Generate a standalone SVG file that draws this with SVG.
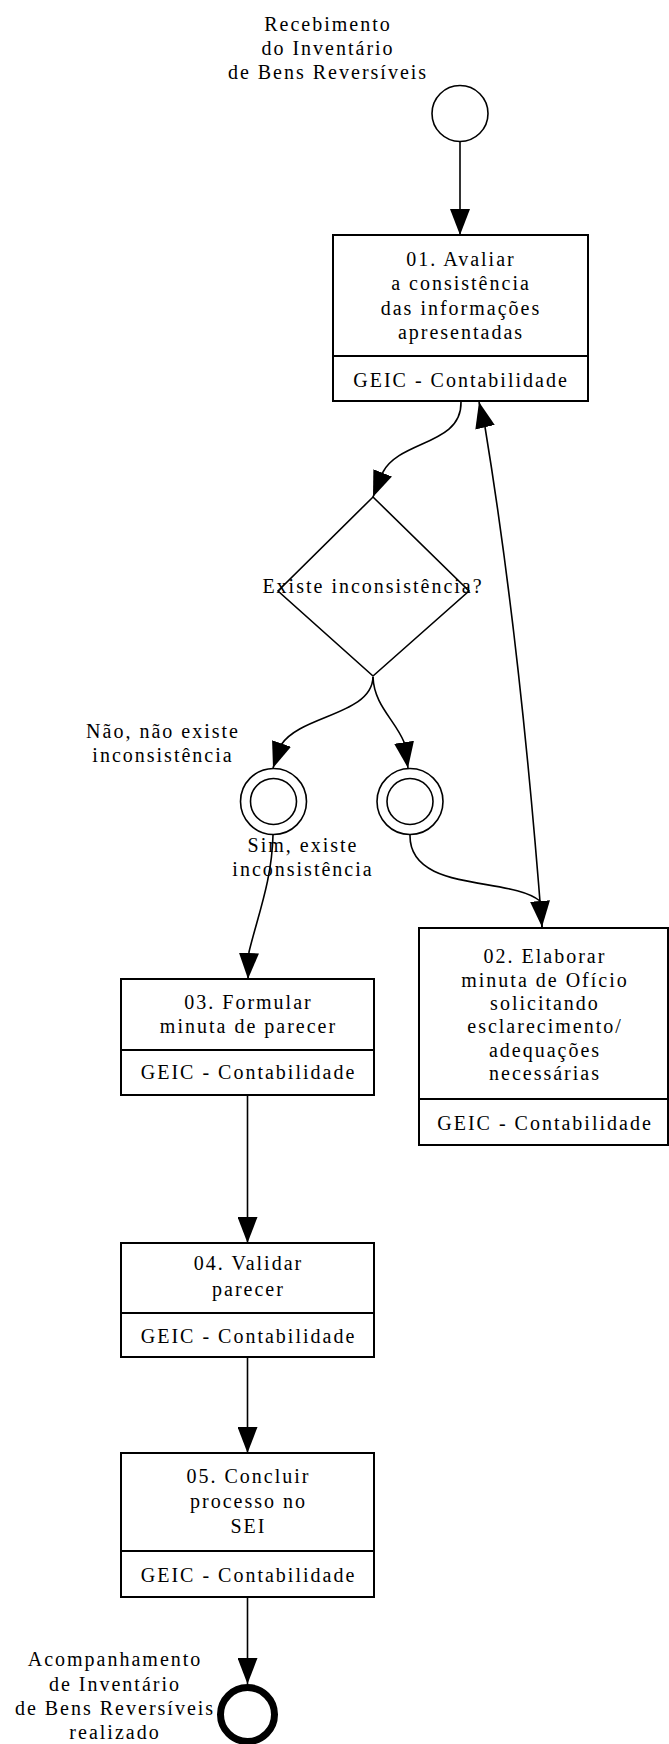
<svg xmlns="http://www.w3.org/2000/svg" width="669" height="1744" viewBox="0 0 669 1744">
<defs>
<marker id="arrow" markerUnits="userSpaceOnUse" markerWidth="26" markerHeight="20" refX="26" refY="10" orient="auto" viewBox="0 0 26 20">
<path d="M0,0 L26,10 L0,20 z" fill="#000"/>
</marker>
</defs>
<style>
.t { font-family: "Liberation Serif", "Times New Roman", serif; font-size: 20px; letter-spacing: 2px; text-anchor: middle; fill: #000; }
.box { fill: #fff; stroke: #000; stroke-width: 2; }
.div { stroke: #000; stroke-width: 2; }
.ev { fill: #fff; stroke: #000; stroke-width: 1.6; }
.end { fill: #fff; stroke: #000; stroke-width: 7; }
.edge { fill: none; stroke: #000; stroke-width: 1.6; marker-end: url(#arrow); }
</style>
<rect width="669" height="1744" fill="#fff"/>

<g id="connectors">
<path class="edge" d="M460,142 L460,235"/>
<path class="edge" d="M461,402 C462,445 400,440 383,472 L373,497"/>
<path class="edge" d="M542,927 Q520,640 485,427 L479,402"/>
<path class="edge" d="M373,677 C372,715 300,715 281,745 L273,768"/>
<path class="edge" d="M373,677 C374,705 395,720 404,742 L408,768"/>
<path class="edge" d="M273,835 C272,880 258,915 249,952 L248,979"/>
<path class="edge" d="M410,835 C409,893 510,876 540,901 L542,927"/>
<path class="edge" d="M247.5,1096 L247.5,1243"/>
<path class="edge" d="M247.5,1358 L247.5,1453"/>
<path class="edge" d="M247.5,1598 L247.5,1684"/>
</g>

<g id="start">
<circle class="ev" cx="460" cy="113.5" r="28"/>
<text class="t" x="328" y="31">Recebimento</text>
<text class="t" x="328" y="55">do Inventário</text>
<text class="t" x="328" y="79">de Bens Reversíveis</text>
</g>

<g id="task01">
<rect class="box" x="333" y="235" width="255" height="166"/>
<line class="div" x1="333" y1="356" x2="588" y2="356"/>
<text class="t" x="461" y="266">01. Avaliar</text>
<text class="t" x="461" y="290">a consistência</text>
<text class="t" x="461" y="315">das informações</text>
<text class="t" x="461" y="339">apresentadas</text>
<text class="t" x="461" y="387">GEIC - Contabilidade</text>
</g>

<g id="gateway">
<polygon class="ev" points="373,497 469,591 373,676 278,591"/>
<text class="t" x="373" y="593">Existe inconsistência?</text>
</g>

<g id="event-nao">
<circle class="ev" cx="273.5" cy="801.5" r="33"/>
<circle class="ev" cx="273.5" cy="801.5" r="23"/>
<text class="t" x="163" y="738">Não, não existe</text>
<text class="t" x="163" y="762">inconsistência</text>
</g>

<g id="event-sim">
<circle class="ev" cx="410" cy="801.5" r="33"/>
<circle class="ev" cx="410" cy="801.5" r="23"/>
<text class="t" x="303" y="852">Sim, existe</text>
<text class="t" x="303" y="876">inconsistência</text>
</g>

<g id="task02">
<rect class="box" x="419" y="928" width="249" height="217"/>
<line class="div" x1="419" y1="1099" x2="668" y2="1099"/>
<text class="t" x="545" y="963">02. Elaborar</text>
<text class="t" x="545" y="987">minuta de Ofício</text>
<text class="t" x="545" y="1010">solicitando</text>
<text class="t" x="545" y="1033">esclarecimento/</text>
<text class="t" x="545" y="1057">adequações</text>
<text class="t" x="545" y="1080">necessárias</text>
<text class="t" x="545" y="1130">GEIC - Contabilidade</text>
</g>

<g id="task03">
<rect class="box" x="121" y="979" width="253" height="116"/>
<line class="div" x1="121" y1="1050" x2="374" y2="1050"/>
<text class="t" x="248.5" y="1009">03. Formular</text>
<text class="t" x="248.5" y="1033">minuta de parecer</text>
<text class="t" x="248.5" y="1079">GEIC - Contabilidade</text>
</g>

<g id="task04">
<rect class="box" x="121" y="1243" width="253" height="114"/>
<line class="div" x1="121" y1="1313" x2="374" y2="1313"/>
<text class="t" x="248.5" y="1270">04. Validar</text>
<text class="t" x="248.5" y="1296">parecer</text>
<text class="t" x="248.5" y="1343">GEIC - Contabilidade</text>
</g>

<g id="task05">
<rect class="box" x="121" y="1453" width="253" height="144"/>
<line class="div" x1="121" y1="1551" x2="374" y2="1551"/>
<text class="t" x="248.5" y="1483">05. Concluir</text>
<text class="t" x="248.5" y="1508">processo no</text>
<text class="t" x="248.5" y="1533">SEI</text>
<text class="t" x="248.5" y="1582">GEIC - Contabilidade</text>
</g>

<g id="end">
<circle class="end" cx="247.5" cy="1714.5" r="27"/>
<text class="t" x="115" y="1666">Acompanhamento</text>
<text class="t" x="115" y="1691">de Inventário</text>
<text class="t" x="115" y="1715">de Bens Reversíveis</text>
<text class="t" x="115" y="1739">realizado</text>
</g>
</svg>
